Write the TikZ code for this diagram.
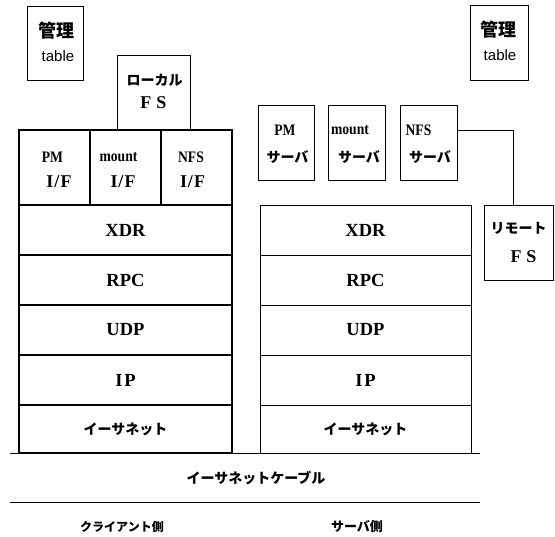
\documentclass[tikz,border=0pt]{standalone}
\usepackage{fontspec}
\usepackage{graphicx}
\setmainfont{Liberation Serif}
\newfontfamily\jp{Noto Sans CJK JP}
\newfontfamily\sansf{Liberation Sans}
\newcommand{\nar}[1]{\scalebox{0.85}[1]{\bfseries #1}}
\begin{document}
\begin{tikzpicture}[x=1pt,y=-1pt,
  box/.style={draw,line width=0.8pt,inner sep=0pt},
  thick box/.style={box,line width=1.1pt},
  lyr/.style={thick box,font=\fontsize{18.5}{20}\selectfont\bfseries},
  jlyr/.style={thick box,font=\fontsize{14}{20}\selectfont\jp\bfseries},
  rlyr/.style={box,font=\fontsize{18.5}{20}\selectfont\bfseries},
  rjlyr/.style={box,font=\fontsize{14}{20}\selectfont\jp\bfseries},
  lbl/.style={inner sep=0pt},
  kanji/.style={lbl,font=\fontsize{18}{18}\selectfont\jp\bfseries},
  kana/.style={lbl,font=\fontsize{14}{14}\selectfont\jp\bfseries},
  tbl/.style={lbl,font=\fontsize{15}{15}\selectfont\sansf},
  serif/.style={lbl,font=\fontsize{18}{18}\selectfont\bfseries},
  cond/.style={lbl,font=\fontsize{16}{16}\selectfont},
  line/.style={line width=0.8pt}]
\useasboundingbox (0,0) rectangle (555,537);

% management tables
\node[box,minimum width=56pt,minimum height=74pt] (mgl) at (55,43) {};
\node[kanji] (mglk) at (56,31) {管理};
\node[tbl] (mglt) at (58,56) {table};
\node[box,minimum width=58pt,minimum height=75pt] (mgr) at (499,42.5) {};
\node[kanji] (mgrk) at (498.5,30) {管理};
\node[tbl] (mgrt) at (500,55) {table};

% local FS
\node[box,minimum width=73pt,minimum height=75pt] (lfs) at (153.5,92.5) {};
\node[kana] (lfsa) at (154.5,80) {ローカル};
\node[serif] (lfsb) at (153.5,103) {F\kern5pt S};

% client interface row
\node[thick box,minimum width=71pt,minimum height=75pt] (pmif) at (54.5,167.5) {};
\node[thick box,minimum width=71pt,minimum height=75pt] (mtif) at (125.5,167.5) {};
\node[thick box,minimum width=71pt,minimum height=75pt] (nfsif) at (196.5,167.5) {};
\node[cond] (pmifa) at (52.5,157) {\nar{PM}};
\node[serif] (pmifb) at (59,182) {I\kern1pt/\kern1pt F};
\node[cond] (mtifa) at (118.5,157) {\nar{mount}};
\node[serif] (mtifb) at (123,182) {I\kern1pt/\kern1pt F};
\node[cond] (nfsifa) at (191,157) {\nar{NFS}};
\node[serif] (nfsifb) at (192.5,182) {I\kern1pt/\kern1pt F};

% client stack
\node[lyr,minimum width=213pt,minimum height=50pt] (cxdr) at (125.5,230) {XDR};
\node[lyr,minimum width=213pt,minimum height=50pt] (crpc) at (125.5,280) {RPC};
\node[lyr,minimum width=213pt,minimum height=50pt] (cudp) at (125.5,330) {UDP};
\node[lyr,minimum width=213pt,minimum height=50pt] (cip) at (125.5,380) {I\kern2pt P};
\node[jlyr,minimum width=213pt,minimum height=48pt] (ceth) at (125.5,429) {イーサネット};

% servers
\node[box,minimum width=56pt,minimum height=75pt] (pmsv) at (286.5,142.5) {};
\node[box,minimum width=57pt,minimum height=75pt] (mtsv) at (356.5,142.5) {};
\node[box,minimum width=57pt,minimum height=75pt] (nfssv) at (428.5,142.5) {};
\node[cond] (pmsva) at (285,130) {\nar{PM}};
\node[kana] (pmsvb) at (287.5,157) {サーバ};
\node[cond] (mtsva) at (350,130) {\nar{mount}};
\node[kana] (mtsvb) at (359,157) {サーバ};
\node[cond] (nfssva) at (418.5,130) {\nar{NFS}};
\node[kana] (nfssvb) at (430,157) {サーバ};

% remote FS
\node[box,minimum width=69pt,minimum height=75pt] (rfs) at (518.5,242.5) {};
\node[kana] (rfsa) at (518.5,228) {リモート};
\node[serif] (rfsb) at (523.5,257) {F\kern5pt S};

% server stack
\node[rlyr,minimum width=211pt,minimum height=50pt] (sxdr) at (365.5,230) {XDR};
\node[rlyr,minimum width=211pt,minimum height=50pt] (srpc) at (365.5,280) {RPC};
\node[rlyr,minimum width=211pt,minimum height=50pt] (sudp) at (365.5,330) {UDP};
\node[rlyr,minimum width=211pt,minimum height=50pt] (sip) at (365.5,380) {I\kern2pt P};
\node[rjlyr,minimum width=211pt,minimum height=48pt] (seth) at (365.5,429) {イーサネット};

% connector NFS server -> remote FS
\draw[line] ([yshift=12.5pt]nfssv.east) -| ([xshift=-5.5pt]rfs.north);

% ethernet cable
\coordinate (c1a) at (10,453); \coordinate (c1b) at (480,453);
\coordinate (c2a) at (10,502); \coordinate (c2b) at (480,502);
\draw[line] (c1a) -- (c1b);
\draw[line] (c2a) -- (c2b);
\node[font=\fontsize{14}{14}\selectfont\jp\bfseries] (cable) at (256,478) {イーサネットケーブル};
\node[font=\fontsize{12}{12}\selectfont\jp\bfseries] (cside) at (122,527) {クライアント側};
\node[font=\fontsize{13}{13}\selectfont\jp\bfseries] (sside) at (357,527) {サーバ側};
\end{tikzpicture}
\end{document}
